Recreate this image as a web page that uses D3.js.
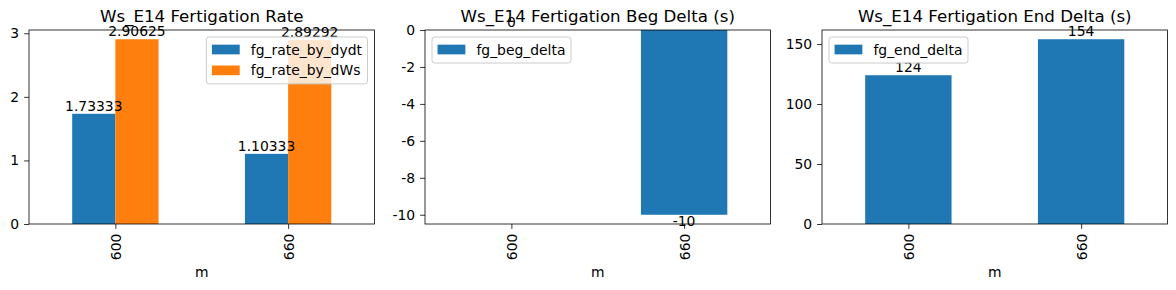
<!DOCTYPE html>
<html><head><meta charset="utf-8">
<script src="https://cdn.jsdelivr.net/npm/d3@7"></script>
<style>
body{margin:0;background:#fff;}
svg{display:block;font-family:"DejaVu Sans",sans-serif;}
</style></head>
<body><svg id="c" width="1176" height="290"></svg>
<script>
const categories = ["600", "660"];
const rateByDydt = [1.73333, 1.10333];
const rateByDWs = [2.90625, 2.89292];
const begDelta = [0, -10];
const endDelta = [124, 154];
const ticks1 = [0, 1, 2, 3];
const ticks2 = [0, -2, -4, -6, -8, -10];
const ticks3 = [0, 50, 100, 150];

const panels = [
  {title: "Ws_E14 Fertigation Rate", left: 29, series: [{name: "fg_rate_by_dydt", vals: rateByDydt, color: "#1f77b4"}, {name: "fg_rate_by_dWs", vals: rateByDWs, color: "#ff7f0e"}], ticks: ticks1, legendRight: true},
  {title: "Ws_E14 Fertigation Beg Delta (s)", left: 425, series: [{name: "fg_beg_delta", vals: begDelta, color: "#1f77b4"}], ticks: ticks2, legendRight: false},
  {title: "Ws_E14 Fertigation End Delta (s)", left: 822, series: [{name: "fg_end_delta", vals: endDelta, color: "#1f77b4"}], ticks: ticks3, legendRight: false}
];
const W = 345.5, axTop = 30, axBottom = 224, FS = 13.9;
const svg = d3.select("#c");

panels.forEach(p => {
  const g = svg.append("g");
  const all = p.series.flatMap(s => s.vals);
  let mn = Math.min(0, d3.min(all)), mx = Math.max(0, d3.max(all));
  const span = mx - mn;
  const lo = mn < 0 ? mn - 0.05 * span : 0;
  const hi = mx > 0 ? mx + 0.05 * span : 0;
  const y = d3.scaleLinear().domain([lo, hi]).range([axBottom, axTop]);
  const x = d3.scaleLinear().domain([-0.5, categories.length - 0.5]).range([p.left, p.left + W]);
  const n = p.series.length, bw = 0.5 / n;
  // bars
  p.series.forEach((s, j) => {
    g.selectAll(null).data(s.vals).enter().append("rect")
      .attr("x", (d, i) => x(i - 0.25 + j * bw))
      .attr("width", x(bw) - x(0))
      .attr("y", d => Math.min(y(d), y(0)))
      .attr("height", d => Math.abs(y(d) - y(0)))
      .attr("fill", s.color);
  });
  // frame
  g.append("rect").attr("x", p.left).attr("y", axTop).attr("width", W).attr("height", axBottom - axTop)
    .attr("fill", "none").attr("stroke", "#000").attr("stroke-width", 0.8);
  // y axis
  const ya = g.append("g").attr("transform", `translate(${p.left},0)`)
    .call(d3.axisLeft(y).tickValues(p.ticks).tickFormat(d => String(d)).tickSize(4.9).tickPadding(4.9).tickSizeOuter(0));
  ya.select(".domain").remove();
  ya.selectAll("line").attr("stroke", "#000").attr("stroke-width", 0.8);
  ya.selectAll("text").attr("font-size", FS).attr("fill", "#000").attr("font-family", "DejaVu Sans");
  // x axis
  const xa = g.append("g").attr("transform", `translate(0,${axBottom})`)
    .call(d3.axisBottom(x).tickValues(categories.map((c, i) => i)).tickFormat(i => categories[i]).tickSize(4.9).tickSizeOuter(0));
  xa.select(".domain").remove();
  xa.selectAll("line").attr("stroke", "#000").attr("stroke-width", 0.8);
  xa.selectAll("text").attr("font-size", FS).attr("fill", "#000").attr("font-family", "DejaVu Sans")
    .attr("transform", "rotate(-90)").attr("text-anchor", "end")
    .attr("x", -9.7).attr("y", 0).attr("dy", "0.35em");
  g.append("text").attr("x", p.left + W / 2).attr("y", 277).attr("text-anchor", "middle")
    .attr("font-size", FS).text("m");
  // title
  g.append("text").attr("x", p.left + W / 2).attr("y", 21.7).attr("text-anchor", "middle")
    .attr("font-size", 16.67).text(p.title);
  // bar labels
  p.series.forEach((s, j) => {
    g.selectAll(null).data(s.vals).enter().append("text")
      .attr("x", (d, i) => x(i - 0.25 + j * bw + bw / 2))
      .attr("y", d => d < 0 ? y(d) + 11 : y(d) - 3)
      .attr("text-anchor", "middle").attr("font-size", FS)
      .text(d => String(d));
  });
  // legend
  const lg = g.append("g");
  const bp = 0.4 * FS, hl = 2 * FS, htp = 0.8 * FS, ls = 0.5 * FS;
  const texts = p.series.map(s => s.name);
  const tmp = lg.append("text").attr("font-size", FS);
  const tw = d3.max(texts, t => { tmp.text(t); return tmp.node().getComputedTextLength(); });
  tmp.remove();
  const lw = bp * 2 + hl + htp + tw;
  const lh = bp * 2 + n * FS + (n - 1) * ls + 1;
  const lx = p.legendRight ? p.left + W - 7 - lw : p.left + 7;
  const ly = axTop + 7;
  lg.append("rect").attr("x", lx).attr("y", ly).attr("width", lw).attr("height", lh)
    .attr("rx", 2.8).attr("fill", "#fff").attr("fill-opacity", 0.8)
    .attr("stroke", "#cccccc").attr("stroke-width", 1);
  p.series.forEach((s, j) => {
    const cy = ly + bp + 7 + j * (FS + ls);
    lg.append("rect").attr("x", lx + bp).attr("y", cy - 4.9).attr("width", hl).attr("height", 9.7).attr("fill", s.color);
    lg.append("text").attr("x", lx + bp + hl + htp).attr("y", cy + 5).attr("font-size", FS).text(s.name);
  });
});
</script></body></html>
